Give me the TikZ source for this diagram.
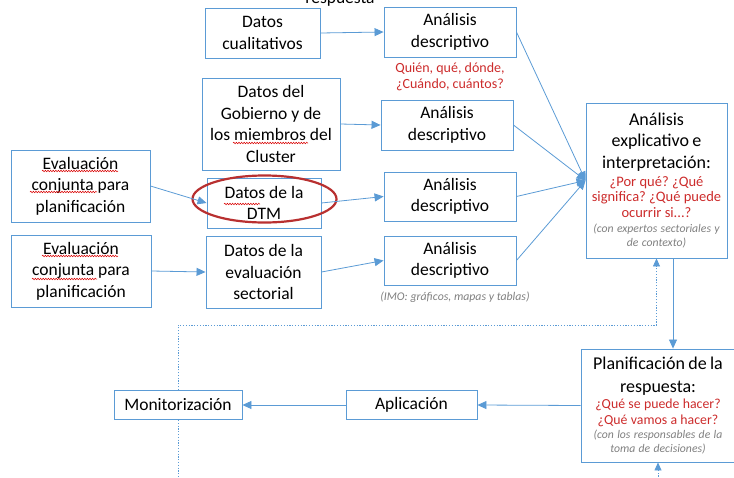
\documentclass[tikz,border=0pt]{standalone}
\usepackage{fontspec}
\setmainfont{Carlito}
\usetikzlibrary{arrows.meta,calc,shapes.geometric,decorations.pathmorphing}
\definecolor{bblue}{HTML}{5B9BD5}
\definecolor{rtext}{HTML}{CC2B2B}
\definecolor{gtext}{HTML}{808080}
\definecolor{ered}{HTML}{B83030}
\frenchspacing
\tikzset{
  box/.style={draw=bblue, line width=0.9pt, rectangle, inner sep=0pt, align=center,
    font=\fontsize{17.5}{21.5}\selectfont},
  arr/.style={draw=bblue, line width=0.8pt, -{Triangle[length=9pt,width=8pt]}},
  dotl/.style={draw=bblue, line width=0.7pt, dash pattern=on 1.2pt off 1.6pt},
  redq/.style={text=rtext, align=center, inner sep=0pt, font=\fontsize{14}{16}\selectfont},
  greyq/.style={text=gtext, align=center, inner sep=0pt, font=\fontsize{11.8}{15}\selectfont\itshape},
  spell/.style={draw=red!85!black, line width=0.5pt, decorate,
    decoration={snake, amplitude=0.8pt, segment length=2.6pt}}
}
\begin{document}
\begin{tikzpicture}[x=1pt,y=-1pt]
\useasboundingbox (0,0) rectangle (734,477);
\clip (0,0) rectangle (734,477);

% partial heading at top (cut off in the reference)
\node[anchor=base, inner sep=0pt, font=\fontsize{17.5}{21}\selectfont] (resp) at (340,3) {respuesta};

% column of data boxes
\node[box, minimum width=115pt, minimum height=50pt] (dc) at (262.5,33) {Datos\\cualitativos};
\node[box, minimum width=138pt, minimum height=92pt] (gob) at (271,124) {Datos del\\Gobierno y de\\los miembros del\\Cluster};
\node[box, minimum width=114pt, minimum height=50pt] (dtm) at (264,203) {Datos de la\\DTM};
\node[box, minimum width=115pt, minimum height=72pt] (des) at (263.5,272) {Datos de la\\evaluación\\sectorial};

% evaluation boxes
\node[box, minimum width=139pt, minimum height=72pt] (ev1) at (80.5,186) {Evaluación\\conjunta para\\planificación};
\node[box, minimum width=140pt, minimum height=72pt] (ev2) at (81,271) {Evaluación\\conjunta para\\planificación};

% descriptive analysis boxes
\node[box, minimum width=132pt, minimum height=50pt] (a1) at (450,32) {Análisis\\descriptivo};
\node[box, minimum width=132pt, minimum height=50pt] (a2) at (447,125) {Análisis\\descriptivo};
\node[box, minimum width=132pt, minimum height=49pt] (a3) at (450,196.5) {Análisis\\descriptivo};
\node[box, minimum width=132pt, minimum height=49pt] (a4) at (450,260.5) {Análisis\\descriptivo};

\node[redq] (q1) at (450,77) {Quién, qué, dónde,\\¿Cuándo, cuántos?};
\node[greyq] (imo) at (455,297) {(IMO: gráficos, mapas y tablas)};

% explicative analysis
\node[draw=bblue, line width=0.9pt, rectangle, inner sep=0pt, align=center,
      minimum width=141pt, minimum height=155pt, text width=141pt] (exp) at (656.5,180.5)
 {{\fontsize{18}{21.5}\selectfont Análisis\\explicativo e\\interpretación:\par}\vspace{2.5pt}
  {\color{rtext}\fontsize{14.5}{15.5}\selectfont ¿Por qué? ¿Qué\\significa? ¿Qué puede\\ocurrir si...?\par}\vspace{1pt}
  {\color{gtext}\itshape\fontsize{11.7}{14}\selectfont (con expertos sectoriales y\\de contexto)\par}};

% planning
\node[draw=bblue, line width=0.9pt, rectangle, inner sep=0pt, align=center,
      minimum width=154pt, minimum height=113pt, text width=154pt] (pla) at (658,405.5)
 {{\fontsize{18}{22.5}\selectfont Planificación de la\\respuesta:\par}\vspace{1pt}
  {\color{rtext}\fontsize{13.8}{15.5}\selectfont ¿Qué se puede hacer?\\¿Qué vamos a hacer?\par}
  {\color{gtext}\itshape\fontsize{11.7}{14}\selectfont (con los responsables de la\\toma de decisiones)\par}};

\node[box, minimum width=131pt, minimum height=29pt] (apl) at (411.5,405) {Aplicación};
\node[box, minimum width=128pt, minimum height=29pt] (mon) at (178,405) {Monitorización};

% red ellipse
\node[draw=ered, line width=2.2pt, ellipse, minimum width=144pt, minimum height=47pt] (circ) at (264.5,199) {};

% connectors
\draw[arr] (dc.east) -- (a1.west);
\draw[arr] (gob.east) -- (a2.west);
\draw[arr] (ev1.east) -- (dtm.west);
\draw[arr] (dtm.east) -- (a3.west);
\draw[arr] (ev2.east) -- (des.west);
\draw[arr] (des.east) -- (a4.west);
\draw[arr] (a1.east) -- (exp.west);
\draw[arr] (a2.east) -- (exp.west);
\draw[arr] (a3.east) -- (exp.west);
\draw[arr] (a4.east) -- (exp.west);
\coordinate (ve) at ($(exp.south)+(16.5,0)$);
\draw[arr] (ve) -- (ve |- pla.north);
\draw[arr] (pla.west) -- (apl.east);
\draw[arr] (apl.west) -- (mon.east);

% dotted feedback loop
\coordinate (lt) at (179,325);
\coordinate (bot) at (0,485);
\draw[dotl, -{Triangle[length=8pt,width=7pt]}] (mon.north) -- (mon.north |- lt) -| (exp.south);
\draw[dotl] (mon.south) -- (mon.south |- bot);
\draw[dotl, -{Triangle[length=8pt,width=7pt]}] (pla.south |- bot) -- (pla.south);

% spell-check underlines
\draw[spell] (42,171) -- (118,171);
\draw[spell] (30,192) -- (97,192);
\draw[spell] (233,143) -- (308,143);
\draw[spell] (224,204) -- (260,204);
\draw[spell] (42,256) -- (118,256);
\draw[spell] (32,279) -- (97,279);
\end{tikzpicture}
\end{document}
